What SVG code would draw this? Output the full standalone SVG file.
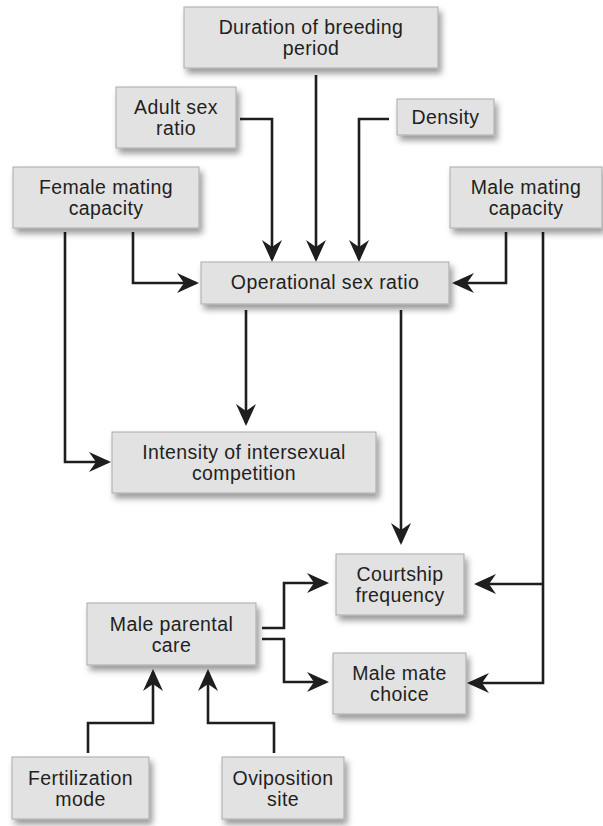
<svg xmlns="http://www.w3.org/2000/svg" width="603" height="826" viewBox="0 0 603 826">
  <style>
    .box { fill: #e2e2e2; stroke: #a9a9a9; stroke-width: 1; filter: url(#shadow); }
    .lbl { font-family: "Liberation Sans", Arial, Helvetica, sans-serif; font-size: 19.5px; letter-spacing: 0.4px; fill: #231f20; text-anchor: middle; }
    .wire { fill: none; stroke: #1e1e1e; stroke-width: 2.6; stroke-linejoin: miter; marker-end: url(#head); }
  </style>
  <defs>
    <filter id="shadow" x="-10%" y="-20%" width="130%" height="150%">
      <feDropShadow dx="3" dy="5" stdDeviation="3" flood-color="#000" flood-opacity="0.4"/>
    </filter>
    <marker id="head" viewBox="0 0 22 20" refX="19" refY="10" markerWidth="22" markerHeight="20" markerUnits="userSpaceOnUse" orient="auto">
      <path d="M22,10 L0,0 L7,10 L0,20 Z" fill="#1e1e1e"/>
    </marker>
  </defs>

  <rect width="603" height="826" fill="#ffffff"/>

  <g id="connectors">
    <path class="wire" d="M316,75 V259"/>
    <path class="wire" d="M240,119 H272 V259"/>
    <path class="wire" d="M389,119 H359 V259"/>
    <path class="wire" d="M133,232 V283 H196"/>
    <path class="wire" d="M65,232 V462 H108"/>
    <path class="wire" d="M506,232 V283 H455"/>
    <path class="wire" d="M543,232 V683 H470"/>
    <path class="wire" d="M543,584 H477"/>
    <path class="wire" d="M246,310 V423"/>
    <path class="wire" d="M401,310 V542"/>
    <path class="wire" d="M262,628 H284 V583 H326"/>
    <path class="wire" d="M262,639 H284 V682 H326"/>
    <path class="wire" d="M88,753 V723 H153 V672"/>
    <path class="wire" d="M274,753 V723 H208 V672"/>
  </g>

  <g id="duration">
    <rect class="box" x="184" y="7" width="254" height="61"/>
    <text class="lbl" x="311" y="34">Duration of breeding</text>
    <text class="lbl" x="311" y="55">period</text>
  </g>
  <g id="adult-sex-ratio">
    <rect class="box" x="116" y="87" width="120" height="61"/>
    <text class="lbl" x="176" y="114">Adult sex</text>
    <text class="lbl" x="176" y="135">ratio</text>
  </g>
  <g id="density">
    <rect class="box" x="397" y="99" width="97" height="36"/>
    <text class="lbl" x="445.5" y="124">Density</text>
  </g>
  <g id="female-mating-capacity">
    <rect class="box" x="13" y="167" width="186" height="61"/>
    <text class="lbl" x="106" y="194">Female mating</text>
    <text class="lbl" x="106" y="215">capacity</text>
  </g>
  <g id="male-mating-capacity">
    <rect class="box" x="450" y="167" width="152" height="61"/>
    <text class="lbl" x="526" y="194">Male mating</text>
    <text class="lbl" x="526" y="215">capacity</text>
  </g>
  <g id="operational-sex-ratio">
    <rect class="box" x="201" y="262" width="248" height="42"/>
    <text class="lbl" x="325" y="289">Operational sex ratio</text>
  </g>
  <g id="intensity">
    <rect class="box" x="112" y="432" width="264" height="61"/>
    <text class="lbl" x="244" y="459">Intensity of intersexual</text>
    <text class="lbl" x="244" y="480">competition</text>
  </g>
  <g id="courtship-frequency">
    <rect class="box" x="336" y="554" width="128" height="61"/>
    <text class="lbl" x="400" y="581">Courtship</text>
    <text class="lbl" x="400" y="602">frequency</text>
  </g>
  <g id="male-parental-care">
    <rect class="box" x="87" y="603" width="169" height="62"/>
    <text class="lbl" x="171.5" y="630.5">Male parental</text>
    <text class="lbl" x="171.5" y="651.5">care</text>
  </g>
  <g id="male-mate-choice">
    <rect class="box" x="333" y="653" width="133" height="61"/>
    <text class="lbl" x="399.5" y="680">Male mate</text>
    <text class="lbl" x="399.5" y="701">choice</text>
  </g>
  <g id="fertilization-mode">
    <rect class="box" x="12" y="757" width="137" height="62"/>
    <text class="lbl" x="80.5" y="784.5">Fertilization</text>
    <text class="lbl" x="80.5" y="805.5">mode</text>
  </g>
  <g id="oviposition-site">
    <rect class="box" x="222" y="757" width="122" height="62"/>
    <text class="lbl" x="283" y="784.5">Oviposition</text>
    <text class="lbl" x="283" y="805.5">site</text>
  </g>
</svg>
